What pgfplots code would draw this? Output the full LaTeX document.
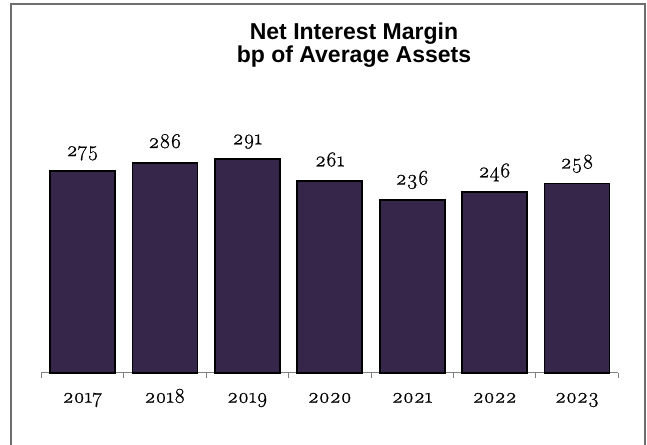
\documentclass[border=0pt]{standalone}
\usepackage{fontspec}
\usepackage{pgfplots}
\usepackage{pgfplotstable}
\pgfplotsset{compat=1.18}
\newfontfamily\titlefont{Liberation Sans}
\newfontfamily\numfont{Latin Modern Roman}[Numbers=OldStyle, FakeBold=0.7]
\definecolor{barfill}{RGB}{53,38,74}
\definecolor{framegray}{RGB}{110,110,110}
\definecolor{axgray}{RGB}{128,128,128}
\pgfplotstableread{
x y lab
0 275 275
1 286 286
2 291 291
3 261 261
4 236 236
5 246 246
6 258 258
}\nimdata
\begin{document}
\begin{tikzpicture}[x=1pt,y=1pt]
\useasboundingbox (0,0) rectangle (647,444);
\fill[white] (0,0) rectangle (647,444);
\draw[framegray, line width=1.3pt] (11,-10) -- (11,440) -- (645,440) -- (645,-10);
\node[anchor=base, font=\titlefont\bfseries\fontsize{23}{25}\selectfont] at (354,404.5) {Net Interest Margin};
\node[anchor=base, font=\titlefont\bfseries\fontsize{23}{25}\selectfont] at (354,381) {bp of Average Assets};
\begin{axis}[
  at={(41.3pt,71.3pt)}, anchor=south west,
  scale only axis, width=577pt, height=220pt,
  xmin=-0.5, xmax=6.5, ymin=0, ymax=300,
  axis x line*=bottom, axis y line=none,
  x axis line style={axgray, line width=1pt},
  xtick={0,...,6},
  xticklabels={2017,2018,2019,2020,2021,2022,2023},
  major tick length=0pt,
  minor xtick={-0.5,0.5,...,6.5},
  minor tick length=5pt,
  tick align=outside,
  minor tick style={axgray, line width=1pt},
  xticklabel style={font=\numfont\fontsize{21}{24}\selectfont, anchor=base, yshift=-30pt, inner sep=0pt},
  ybar, bar width=65pt, bar shift=0pt,
  point meta=explicit symbolic,
  nodes near coords={\numfont\pgfplotspointmeta},
  nodes near coords style={font=\fontsize{21}{24}\selectfont, anchor=base, inner sep=0pt, yshift=15pt},
  clip=false,
]
\addplot[fill=barfill, draw=black, line width=1.8pt] table[x=x, y=y, meta=lab] {\nimdata};
\end{axis}
\end{tikzpicture}
\end{document}
